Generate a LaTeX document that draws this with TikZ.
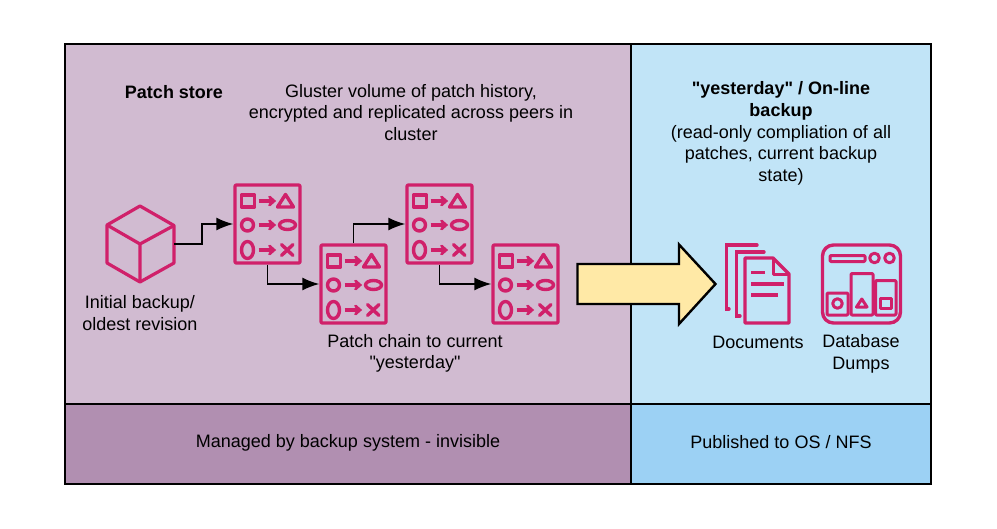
\documentclass[tikz,border=0pt]{standalone}
\usepackage{fontspec}
\setmainfont{Liberation Sans}[Ligatures=TeXOff]
\usetikzlibrary{arrows.meta}
\definecolor{pink}{HTML}{D0206A}
\definecolor{lpurple}{HTML}{D1BBD1}
\definecolor{dpurple}{HTML}{B18FB1}
\definecolor{lblue}{HTML}{C1E4F7}
\definecolor{dblue}{HTML}{9CD1F4}
\definecolor{bigarrow}{HTML}{FFE9A6}
\tikzset{
  x=1pt,y=-1pt,
  zone/.style={draw=black,line width=2pt},
  lbl/.style={align=center,inner sep=0pt,font=\fontsize{18}{21.6}\selectfont,text=black},
  ico/.style={draw=pink,line width=3pt,line join=round},
  thin ico/.style={draw=pink,line width=3.2pt,line cap=round},
  card/.style={draw=pink,line width=3.2pt,rounded corners=1pt,minimum width=65pt,minimum height=78pt,inner sep=0pt,line join=round},
  flow/.style={draw=black,line width=1.8pt,-{Latex[length=17pt,width=13pt]}},
}
\newcommand{\patchicon}[3]{%
  \node[card] (#1) at (#2,#3) {};
  \begin{scope}[shift={(#2,#3)}]
    \draw[ico,line width=3.4pt] (-26,-29) rectangle (-13,-17);
    \draw[ico,line width=3.4pt] (10,-17) -- (26,-17) -- (18,-29.5) -- cycle;
    \draw[ico,line width=3.4pt] (-20,1) circle (6);
    \draw[ico,line width=3.4pt] (20,1) ellipse (8 and 4.5);
    \draw[ico,line width=3.4pt] (-20,26) ellipse (6 and 8.5);
    \draw[thin ico,line width=3.4pt] (14,20.5) -- (25.5,31.5) (14,31.5) -- (25.5,20.5);
    \foreach \ay in {-23,1,26}{
      \draw[draw=pink,line width=3.2pt] (-9,\ay) -- (5,\ay);
      \draw[thin ico,line width=2.8pt] (2,\ay-4) -- (6.5,\ay) -- (2,\ay+4);
    }
  \end{scope}}
\begin{document}
\begin{tikzpicture}
\useasboundingbox (0,0) rectangle (997,528);
\fill[white] (0,0) rectangle (997,528);
\draw[zone,fill=lpurple] (65,44) rectangle (631,404);
\draw[zone,fill=lblue] (631,44) rectangle (931,404);
\draw[zone,fill=dpurple] (65,404) rectangle (631,484);
\draw[zone,fill=dblue] (631,404) rectangle (931,484);

\node[lbl,font=\fontsize{18}{21.6}\selectfont\bfseries] (title) at (174,92) {Patch store};
\node[lbl] (gluster) at (411,112.5) {Gluster volume of patch history,\\encrypted and replicated across peers in\\cluster};
\node[lbl] (yest) at (781,133.5) {\textbf{"yesterday" / On-line}\\\textbf{backup}\\(read-only compliation of all\\patches, current backup\\state)};
\node[lbl] (init) at (140,313) {Initial backup/\\oldest revision};
\node[lbl] (chain) at (415,353.5) {Patch chain to current\\"yesterday"};
\node[lbl] (docs) at (758,342.5) {Documents};
\node[lbl] (dumps) at (861,354) {Database\\Dumps};
\node[lbl] (managed) at (348,443) {Managed by backup system - invisible};
\node[lbl] (pub) at (781,442.5) {Published to OS / NFS};

% cube
\node[minimum width=67pt,minimum height=78pt,inner sep=0pt] (cube) at (140.5,244) {};
\draw[ico,line width=3.2pt] (140,206) -- (174,225.5) -- (174,263) -- (140,282) -- (107,263) -- (107,225) -- cycle;
\draw[ico,line width=3.2pt] (107,225) -- (140,244) -- (174,225.5) (140,244) -- (140,282);

\patchicon{p1}{267.5}{224}
\patchicon{p2}{353.5}{284}
\patchicon{p3}{439.5}{224}
\patchicon{p4}{525.5}{284}

\draw[flow] (cube.east) -- ++(28,0) |- (p1.west);
\draw[flow] (p1.south) |- (p2.west);
\draw[flow] (p2.north) |- (p3.west);
\draw[flow] (p3.south) |- (p4.west);

% big arrow
\draw[draw=black,line width=2.4pt,fill=bigarrow,line join=miter] (577.5,264) -- (679,264) -- (679,244.5) -- (715.5,284) -- (679,324) -- (679,304) -- (577.5,304) -- cycle;

% documents
\draw[thin ico,line width=3.4pt] (757,245) -- (726.5,245) -- (726.5,309) -- (729,309);
\draw[thin ico,line width=3.4pt] (764,252) -- (736.5,252) -- (736.5,316) -- (740,316);
\draw[ico,line width=3.4pt] (745,258) -- (773,258) -- (789,274) -- (789,323) -- (745,323) -- cycle;
\draw[ico,line width=3pt] (773,258) -- (773,274) -- (789,274);
\draw[draw=pink,line width=3.2pt] (751,272.5) -- (765,272.5) (751,284) -- (784,284) (751,295) -- (778,295);

% database icon
\draw[ico,line width=3.4pt,rounded corners=11pt] (822.5,245) rectangle (900.5,323);
\draw[ico,rounded corners=1pt] (830,255.5) rectangle (865,261.5);
\draw[ico] (874.5,258) circle (4.8);
\draw[ico] (889.5,258) circle (4.8);
\draw[ico,rounded corners=1pt] (827,293) rectangle (848,315);
\draw[ico,rounded corners=1pt] (851,273.5) rectangle (873,315);
\draw[ico,rounded corners=1pt] (875.5,280.5) rectangle (896,315);
\draw[ico] (837.5,303.5) circle (4.8);
\draw[ico] (856.5,307) -- (867,307) -- (861.8,299) -- cycle;
\draw[ico] (880,298) rectangle (891,308.5);
\end{tikzpicture}
\end{document}
